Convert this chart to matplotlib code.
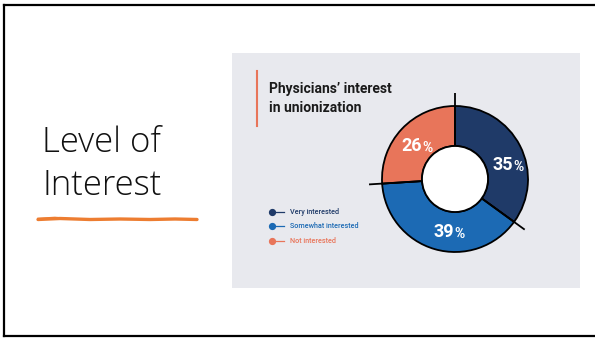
import matplotlib
matplotlib.use("Agg")
import matplotlib.pyplot as plt
import numpy as np
from matplotlib.patches import Rectangle
from matplotlib.lines import Line2D

# ---- data ----
categories = ["Very interested", "Somewhat interested", "Not interested"]
values = [35, 39, 26]
colors = ["#1F3A68", "#1C6AB4", "#E8755A"]
slide_title = ["Level of", "Interest"]
chart_title = ["Physicians\u2019 interest", "in unionization"]

W, H = 595, 338
fig = plt.figure(figsize=(W / 100, H / 100), dpi=100)
fig.patch.set_facecolor("white")

def fx(x):
    return x / W

def fy(y):
    return 1 - y / H

# slide frame (left, top, bottom; right edge is cut off)
for (x0, y0, x1, y1) in [(4, 5, 595, 5), (4, 5, 4, 336), (4, 336, 595, 336)]:
    fig.add_artist(Line2D([fx(x0), fx(x1)], [fy(y0), fy(y1)], color="black", lw=1.6))

# slide title
for txt, yb in zip(slide_title, [152, 195]):
    fig.text(fx(42), fy(yb), txt, fontsize=25, family="Open Sans",
             fontweight="light", color="#111111", va="baseline", ha="left")

# orange scribble underline
xs = np.array([38, 60, 90, 120, 150, 175, 197])
fig.add_artist(Line2D(fx(xs), fy(np.array([219.5, 218.5, 219.5, 219, 219.5, 219, 219.5])),
                      color="#ED7D31", lw=2.4, solid_capstyle="round"))
fig.add_artist(Line2D(fx(np.array([38, 55, 70])), fy(np.array([218.5, 217.5, 219])),
                      color="#ED7D31", lw=1.2))

# grey image panel
fig.add_artist(Rectangle((fx(232), fy(288)), fx(580) - fx(232), fy(53) - fy(288),
                         transform=fig.transFigure, facecolor="#E8E9EE", edgecolor="none",
                         zorder=-5))

# orange accent bar
fig.add_artist(Line2D([fx(257), fx(257)], [fy(71), fy(126)], color="#E8755A", lw=1.5))

# chart title
for txt, yb in zip(chart_title, [93, 112]):
    fig.text(fx(269), fy(yb), txt, fontsize=10, family="Roboto",
             fontweight="bold", color="#1a1a1a", va="baseline", ha="left")

# legend
leg_y = [212, 226, 241]
for lab, c, yy in zip(categories, colors, leg_y):
    fig.add_artist(Line2D([fx(272), fx(284)], [fy(yy), fy(yy)], color=c, lw=0.9))
    fig.add_artist(Line2D([fx(272)], [fy(yy)], color=c, marker="o", markersize=4.2, lw=0))
    fig.text(fx(290), fy(yy), lab, fontsize=5.2, family="Roboto", fontweight="medium",
             color=c, va="center", ha="left")

# donut
cx, cy, R = 455, 179, 73
ax = fig.add_axes([fx(cx - R), fy(cy + R), 2 * R / W, 2 * R / H])
ax.set_zorder(10)
ax.patch.set_alpha(0)
ax.axis("off")
inner = 33 / 73
wedges, _ = ax.pie(values, colors=colors, startangle=90, counterclock=False, radius=1,
                   wedgeprops=dict(width=1 - inner, edgecolor="black", linewidth=1.3))
for w in wedges:
    w.set_clip_on(False)
ax.add_patch(plt.Circle((0, 0), inner, facecolor="white", edgecolor="black", lw=1.3, clip_on=False))
ax.set_xlim(-1, 1)
ax.set_ylim(-1, 1)

# boundary ticks extending beyond the ring
cum = np.cumsum([0] + values)
for k in cum[:-1]:
    ang = np.deg2rad(90 - 360 * k / sum(values))
    ax.plot([inner * np.cos(ang), 1.18 * np.cos(ang)], [inner * np.sin(ang), 1.18 * np.sin(ang)],
            color="black", lw=1.3, clip_on=False, solid_capstyle="butt")

# percent labels (placed in ring units, as in the reference layout)
label_anchor = [(0.73, 0.19), (-0.08, -0.73), (-0.52, 0.45)]
for v, (x, y) in zip(values, label_anchor):
    ax.text(x + 0.07, y, f"{v}", fontsize=13, family="Roboto", fontweight="bold",
            color="white", ha="right", va="center")
    ax.text(x + 0.075, y - 0.025, "%", fontsize=10, family="Roboto", fontweight="bold",
            color="white", ha="left", va="center")

fig.savefig("out.png", dpi=100, facecolor="white")
